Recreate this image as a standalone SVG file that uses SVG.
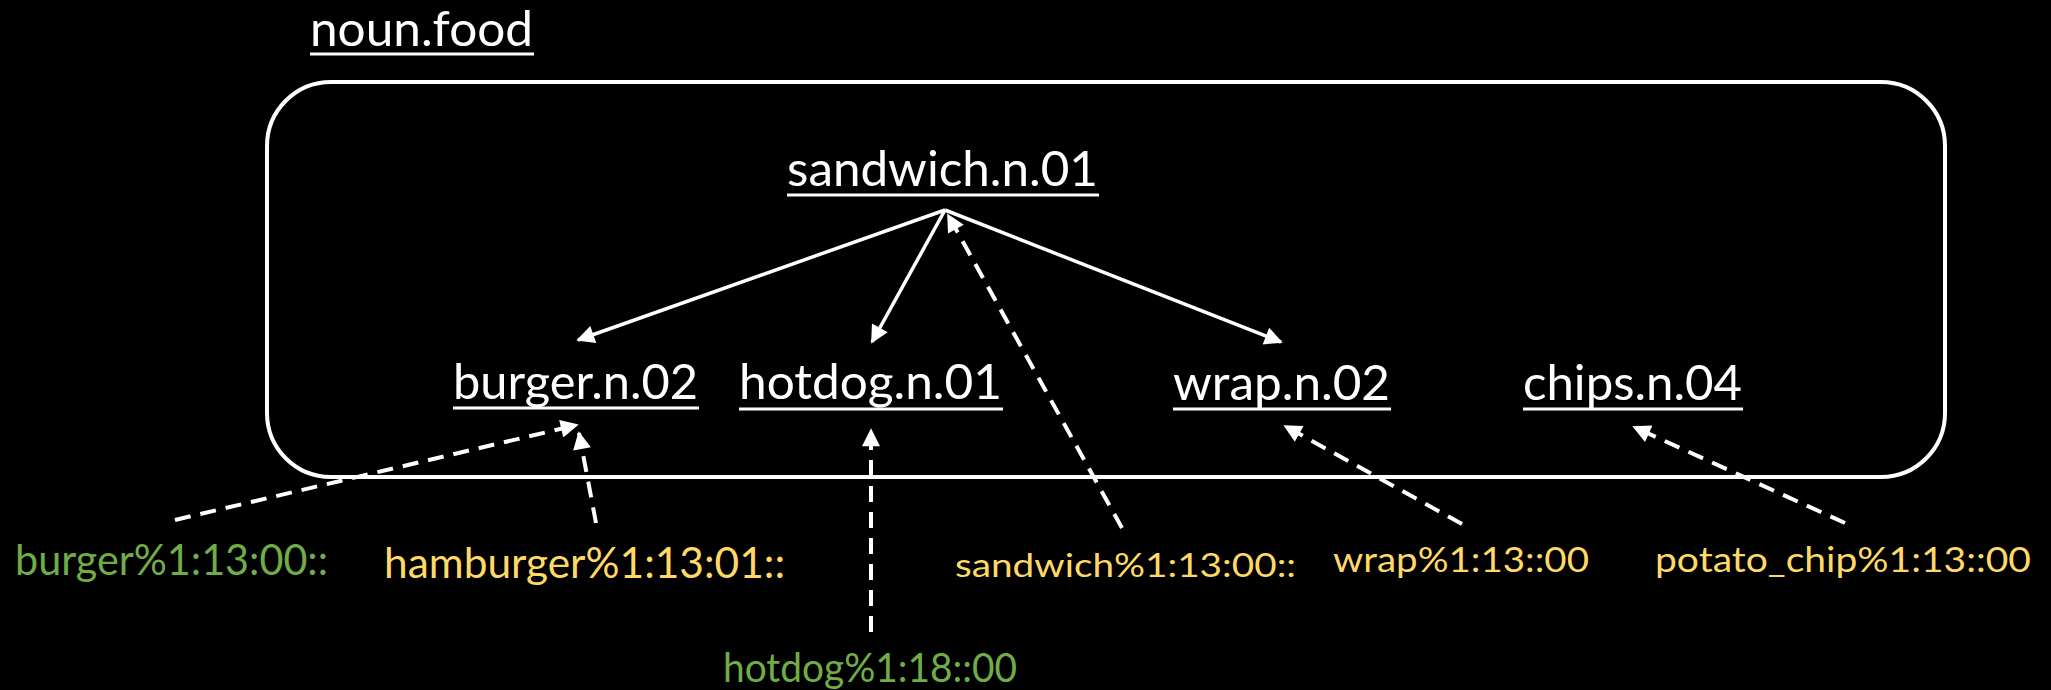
<svg xmlns="http://www.w3.org/2000/svg" width="2051" height="690" viewBox="0 0 2051 690">
<style>
.lbl{font-family:Lato,"Open Sans","Liberation Sans",sans-serif;fill:#fff}
.ul{stroke:#fff;stroke-width:3}
.g{font-family:Lato,"Open Sans","Liberation Sans",sans-serif;fill:#70AD47}
.y{font-family:Lato,"Open Sans","Liberation Sans",sans-serif;fill:#FFD966}
.solid{stroke:#fff;stroke-width:3.5;fill:none;marker-end:url(#ah)}
.dash{stroke:#fff;stroke-width:4;fill:none;stroke-dasharray:16 10;marker-end:url(#ah)}
</style>
<defs>
<marker id="ah" viewBox="0 0 10 10" refX="9" refY="5" markerWidth="20" markerHeight="18" markerUnits="userSpaceOnUse" orient="auto">
<path d="M0,0 L10,5 L0,10 z" fill="#fff"/>
</marker>
</defs>
<rect width="2051" height="690" fill="#000"/>
<g id="frame">
<rect x="267" y="82" width="1678" height="395" rx="64" ry="64" fill="none" stroke="#fff" stroke-width="4"/>
<text class="lbl" x="310" y="46" font-size="48" textLength="223" lengthAdjust="spacingAndGlyphs">noun.food</text>
<line class="ul" x1="310" y1="54" x2="534" y2="54"/>
</g>
<g id="sandwich_n_01">
<text class="lbl" x="787" y="186" font-size="48" textLength="311" lengthAdjust="spacingAndGlyphs">sandwich.n.01</text>
<line class="ul" x1="787" y1="195" x2="1099" y2="195"/>
</g>
<g id="burger_n_02">
<text class="lbl" x="453" y="399" font-size="48" textLength="245" lengthAdjust="spacingAndGlyphs">burger.n.02</text>
<line class="ul" x1="453" y1="408" x2="699" y2="408"/>
</g>
<g id="hotdog_n_01">
<text class="lbl" x="739" y="399" font-size="48" textLength="263" lengthAdjust="spacingAndGlyphs">hotdog.n.01</text>
<line class="ul" x1="739" y1="409" x2="1003" y2="409"/>
</g>
<g id="wrap_n_02">
<text class="lbl" x="1173" y="400" font-size="48" textLength="217" lengthAdjust="spacingAndGlyphs">wrap.n.02</text>
<line class="ul" x1="1173" y1="409" x2="1391" y2="409"/>
</g>
<g id="chips_n_04">
<text class="lbl" x="1523" y="400" font-size="48" textLength="219" lengthAdjust="spacingAndGlyphs">chips.n.04</text>
<line class="ul" x1="1523" y1="409" x2="1743" y2="409"/>
</g>
<g id="burger_sense">
<text class="g" x="15" y="575" font-size="42" textLength="313" lengthAdjust="spacingAndGlyphs">burger%1:13:00::</text>
</g>
<g id="hamburger_sense">
<text class="y" x="384" y="578" font-size="43" textLength="401" lengthAdjust="spacingAndGlyphs">hamburger%1:13:01::</text>
</g>
<g id="hotdog_sense">
<text class="g" x="723" y="682" font-size="41" textLength="294" lengthAdjust="spacingAndGlyphs">hotdog%1:18::00</text>
</g>
<g id="sandwich_sense">
<text class="y" x="955" y="577" font-size="33" textLength="341" lengthAdjust="spacingAndGlyphs">sandwich%1:13:00::</text>
</g>
<g id="wrap_sense">
<text class="y" x="1333" y="572" font-size="35" textLength="256" lengthAdjust="spacingAndGlyphs">wrap%1:13::00</text>
</g>
<g id="potato_chip_sense">
<text class="y" x="1655" y="572" font-size="35" textLength="376" lengthAdjust="spacingAndGlyphs">potato_chip%1:13::00</text>
</g>
<g id="connectors">
<line class="solid" x1="945" y1="210" x2="578" y2="340"/>
<line class="solid" x1="945" y1="210" x2="872" y2="342"/>
<line class="solid" x1="945" y1="210" x2="1281" y2="342"/>
<line class="dash" x1="175" y1="520" x2="577" y2="425"/>
<line class="dash" x1="596" y1="523" x2="579" y2="433"/>
<line class="dash" x1="871" y1="632" x2="871" y2="430"/>
<line class="dash" x1="1122" y1="528" x2="948" y2="215"/>
<line class="dash" x1="1462" y1="524" x2="1285" y2="426"/>
<line class="dash" x1="1845" y1="523" x2="1634" y2="427"/>
</g>
</svg>
